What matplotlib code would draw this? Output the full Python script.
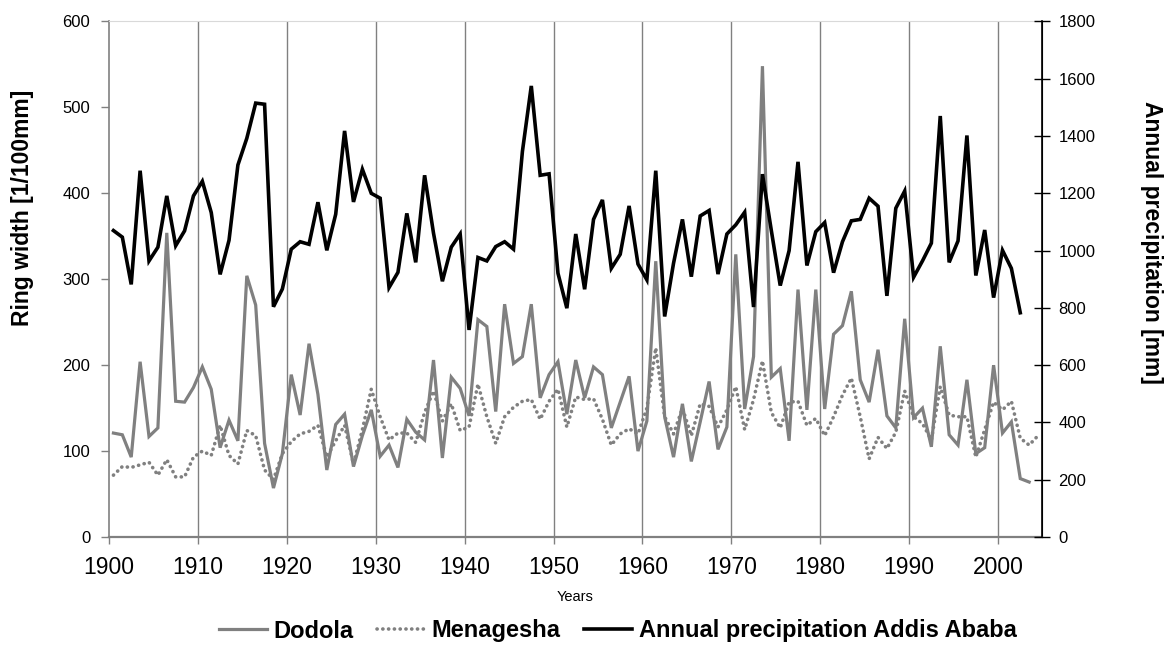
import numpy as np
import matplotlib.pyplot as plt

# ring width series [1/100 mm], one value per year from 1900
dodola = [121, 119, 93, 204, 117, 127, 354, 158, 157, 174,
          198, 172, 104, 136, 112, 304, 270, 109, 57, 97,
          189, 142, 225, 166, 78, 131, 143, 82, 118, 148,
          94, 107, 81, 137, 122, 113, 206, 92, 186, 173,
          141, 253, 245, 146, 271, 202, 210, 271, 162, 189,
          204, 143, 206, 162, 198, 189, 127, 157, 187, 100,
          135, 321, 140, 93, 155, 88, 134, 181, 102, 128,
          329, 149, 210, 548, 186, 196, 112, 288, 148, 288,
          149, 236, 246, 286, 183, 157, 218, 141, 127, 254,
          139, 150, 105, 222, 119, 107, 183, 97, 104, 200,
          121, 134, 68, 64]

menagesha = [72, 82, 81, 84, 87, 72, 90, 70, 70, 93,
             100, 95, 130, 95, 85, 124, 118, 78, 67, 97,
             111, 120, 123, 130, 93, 112, 130, 85, 125, 172,
             140, 113, 121, 121, 110, 145, 170, 135, 155, 124,
             128, 178, 140, 109, 140, 151, 158, 160, 137, 158,
             172, 128, 163, 160, 161, 137, 107, 120, 126, 120,
             150, 220, 140, 120, 150, 118, 155, 152, 128, 148,
             175, 125, 160, 205, 145, 127, 157, 158, 130, 138,
             118, 140, 165, 185, 140, 91, 116, 103, 122, 170,
             140, 132, 113, 175, 142, 140, 140, 93, 125, 157,
             148, 158, 115, 107, 118]

# annual precipitation Addis Ababa [mm]
precip = [1070, 1047, 882, 1279, 964, 1012, 1191, 1017, 1069, 1191,
          1242, 1133, 917, 1036, 1299, 1392, 1515, 1511, 804, 866,
          1005, 1031, 1022, 1169, 1001, 1127, 1418, 1170, 1284, 1200,
          1183, 871, 924, 1130, 959, 1263, 1061, 893, 1012, 1058,
          723, 976, 964, 1014, 1031, 1005, 1346, 1575, 1263, 1268,
          921, 799, 1058, 865, 1109, 1177, 938, 987, 1156, 953,
          898, 1279, 770, 956, 1109, 909, 1121, 1140, 918, 1058,
          1090, 1134, 803, 1267, 1070, 878, 1000, 1310, 948, 1066,
          1098, 923, 1031, 1104, 1109, 1183, 1155, 842, 1148, 1208,
          907, 964, 1026, 1470, 959, 1034, 1402, 913, 1072, 836,
          1001, 938, 783]

first_year = 1900
decades = list(range(1900, 2001, 10))

yrs_d = np.arange(first_year, first_year + len(dodola))
yrs_m = np.arange(first_year, first_year + len(menagesha))
yrs_p = np.arange(first_year, first_year + len(precip))

plt.rcParams['font.family'] = ['Liberation Sans', 'DejaVu Sans']

fig = plt.figure(figsize=(11.72, 6.45), dpi=100)
ax = fig.add_axes([0.093, 0.1674, 0.7965, 0.7993])
ax2 = ax.twinx()

grey = '#808080'

l1, = ax.plot(yrs_d, dodola, color=grey, lw=2.3, solid_joinstyle='miter', label='Dodola')
l2, = ax.plot(yrs_m, menagesha, color=grey, lw=2.6, linestyle=(0, (0.05, 1.55)),
              dash_capstyle='round', label='Menagesha')
l3, = ax2.plot(yrs_p, precip, color='black', lw=2.6, solid_joinstyle='miter',
               label='Annual precipitation Addis Ababa')

# category style x axis: gridlines sit between the yearly points
edges = [d - 0.5 for d in decades]
ax.set_xlim(first_year - 0.5, 2004.5)
ax.set_xticks(edges)
ax.set_xticklabels([str(d) for d in decades], fontsize=16.5)
for e in edges[1:]:
    ax.axvline(e, color=grey, lw=1, zorder=0)

ax.set_ylim(0, 600)
ax.set_yticks(range(0, 601, 100))
ax2.set_ylim(0, 1800)
ax2.set_yticks(range(0, 1801, 200))

ax.tick_params(axis='x', direction='out', length=5, width=1, color=grey, pad=9)
ax.tick_params(axis='y', direction='out', length=5.5, width=1, color=grey, labelsize=12, pad=8)
ax2.tick_params(axis='y', direction='inout', length=11, width=1, color='black', labelsize=12, pad=6)

ax.spines['top'].set_color('#d9d9d9')
ax.spines['left'].set_color(grey)
ax.spines['left'].set_linewidth(1.2)
ax.spines['bottom'].set_color(grey)
ax.spines['bottom'].set_linewidth(1.6)
ax2.spines['right'].set_color('black')
ax2.spines['right'].set_linewidth(1.2)
for s in ['top', 'left', 'bottom']:
    ax2.spines[s].set_visible(False)

fig.text(575 / 1172, 1 - 597 / 645, 'Years', fontsize=10.5, ha='center', va='center')
fig.text(22 / 1172, 1 - 208 / 645, 'Ring width [1/100mm]', fontsize=16.5, fontweight='bold',
         rotation=90, ha='center', va='center')
fig.text(1152 / 1172, 1 - 242 / 645, 'Annual precipitation [mm]', fontsize=16.5, fontweight='bold',
         rotation=270, ha='center', va='center')

fig.legend(handles=[l1, l2, l3], loc='center', bbox_to_anchor=(618 / 1172, 1 - 631 / 645),
           ncol=3, frameon=False, prop={'weight': 'bold', 'size': 17},
           handlelength=2.0, handletextpad=0.3, columnspacing=1.0)

fig.savefig('out.png', dpi=100)
